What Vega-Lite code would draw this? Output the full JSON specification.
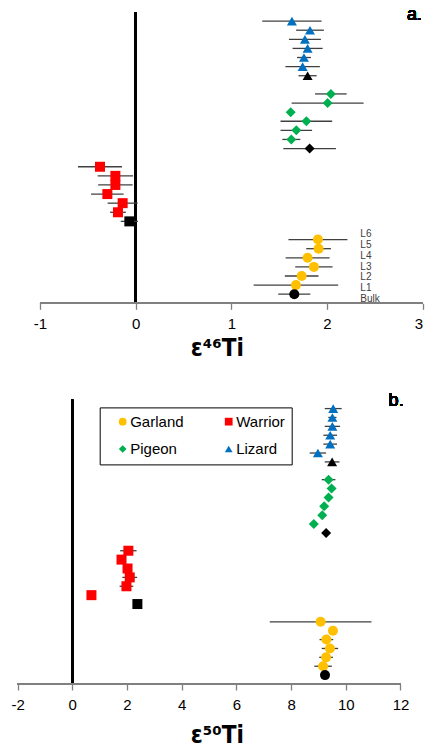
{
  "$schema": "https://vega.github.io/schema/vega-lite/v6.json",
  "background": "white",
  "padding": {"left": 10, "top": 6, "right": 3.3, "bottom": 0},
  "bounds": "flush",
  "spacing": 95.7,
  "config": {
    "view": {"stroke": null},
    "font": "Liberation Sans, Arial, sans-serif",
    "axisX": {"domain": false, "grid": false, "ticks": true, "tickColor": "#808080", "tickSize": 6, "tickWidth": 1.3, "labelFontSize": 15, "labelColor": "black", "labelPadding": 7, "labelExpr": "'' + datum.value", "titleFont": "DejaVu Sans Condensed, DejaVu Sans, sans-serif", "titleFontSize": 24, "titleFontWeight": "bold", "titleColor": "black"}
  },
  "data": {"values": [
    {"sample": "Lizard L6", "meteorite": "Lizard", "step": "L6", "stepNo": 6, "kind": "leachate", "e46": 1.633, "e46err": 0.31, "e50": 9.54, "e50err": 0.31},
    {"sample": "Lizard L5", "meteorite": "Lizard", "step": "L5", "stepNo": 5, "kind": "leachate", "e46": 1.822, "e46err": 0.145, "e50": 9.51, "e50err": 0.15},
    {"sample": "Lizard L4", "meteorite": "Lizard", "step": "L4", "stepNo": 4, "kind": "leachate", "e46": 1.769, "e46err": 0.167, "e50": 9.51, "e50err": 0.28},
    {"sample": "Lizard L3", "meteorite": "Lizard", "step": "L3", "stepNo": 3, "kind": "leachate", "e46": 1.797, "e46err": 0.157, "e50": 9.43, "e50err": 0.25},
    {"sample": "Lizard L2", "meteorite": "Lizard", "step": "L2", "stepNo": 2, "kind": "leachate", "e46": 1.759, "e46err": 0.073, "e50": 9.43, "e50err": 0.25},
    {"sample": "Lizard L1", "meteorite": "Lizard", "step": "L1", "stepNo": 1, "kind": "leachate", "e46": 1.745, "e46err": 0.18, "e50": 8.98, "e50err": 0.3},
    {"sample": "Lizard Bulk", "meteorite": "Lizard", "step": "Bulk", "stepNo": 0, "kind": "bulk", "e46": 1.797, "e46err": 0.095, "e50": 9.5, "e50err": 0.27},
    {"sample": "Pigeon L6", "meteorite": "Pigeon", "step": "L6", "stepNo": 6, "kind": "leachate", "e46": 2.04, "e46err": 0.165, "e50": 9.37, "e50err": 0.25},
    {"sample": "Pigeon L5", "meteorite": "Pigeon", "step": "L5", "stepNo": 5, "kind": "leachate", "e46": 2.006, "e46err": 0.376, "e50": 9.48, "e50err": 0.1},
    {"sample": "Pigeon L4", "meteorite": "Pigeon", "step": "L4", "stepNo": 4, "kind": "leachate", "e46": 1.62, "e46err": 0.03, "e50": 9.37, "e50err": 0.1},
    {"sample": "Pigeon L3", "meteorite": "Pigeon", "step": "L3", "stepNo": 3, "kind": "leachate", "e46": 1.784, "e46err": 0.27, "e50": 9.21, "e50err": 0.1},
    {"sample": "Pigeon L2", "meteorite": "Pigeon", "step": "L2", "stepNo": 2, "kind": "leachate", "e46": 1.679, "e46err": 0.165, "e50": 9.14, "e50err": 0.1},
    {"sample": "Pigeon L1", "meteorite": "Pigeon", "step": "L1", "stepNo": 1, "kind": "leachate", "e46": 1.627, "e46err": 0.094, "e50": 8.83, "e50err": 0.1},
    {"sample": "Pigeon Bulk", "meteorite": "Pigeon", "step": "Bulk", "stepNo": 0, "kind": "bulk", "e46": 1.818, "e46err": 0.275, "e50": 9.28, "e50err": 0.1},
    {"sample": "Warrior L6", "meteorite": "Warrior", "step": "L6", "stepNo": 6, "kind": "leachate", "e46": -0.373, "e46err": 0.23, "e50": 2.05, "e50err": 0.3},
    {"sample": "Warrior L5", "meteorite": "Warrior", "step": "L5", "stepNo": 5, "kind": "leachate", "e46": -0.212, "e46err": 0.185, "e50": 1.8, "e50err": 0.1},
    {"sample": "Warrior L4", "meteorite": "Warrior", "step": "L4", "stepNo": 4, "kind": "leachate", "e46": -0.212, "e46err": 0.18, "e50": 2.02, "e50err": 0.15},
    {"sample": "Warrior L3", "meteorite": "Warrior", "step": "L3", "stepNo": 3, "kind": "leachate", "e46": -0.296, "e46err": 0.17, "e50": 2.1, "e50err": 0.27},
    {"sample": "Warrior L2", "meteorite": "Warrior", "step": "L2", "stepNo": 2, "kind": "leachate", "e46": -0.136, "e46err": 0.157, "e50": 1.98, "e50err": 0.25},
    {"sample": "Warrior L1", "meteorite": "Warrior", "step": "L1", "stepNo": 1, "kind": "leachate", "e46": -0.185, "e46err": 0.083, "e50": 0.7, "e50err": 0.1},
    {"sample": "Warrior Bulk", "meteorite": "Warrior", "step": "Bulk", "stepNo": 0, "kind": "bulk", "e46": -0.066, "e46err": 0.09, "e50": 2.38, "e50err": 0.1},
    {"sample": "Garland L6", "meteorite": "Garland", "step": "L6", "stepNo": 6, "kind": "leachate", "e46": 1.905, "e46err": 0.308, "e50": 9.08, "e50err": 1.86},
    {"sample": "Garland L5", "meteorite": "Garland", "step": "L5", "stepNo": 5, "kind": "leachate", "e46": 1.912, "e46err": 0.129, "e50": 9.53, "e50err": 0.1},
    {"sample": "Garland L4", "meteorite": "Garland", "step": "L4", "stepNo": 4, "kind": "leachate", "e46": 1.797, "e46err": 0.23, "e50": 9.29, "e50err": 0.25},
    {"sample": "Garland L3", "meteorite": "Garland", "step": "L3", "stepNo": 3, "kind": "leachate", "e46": 1.863, "e46err": 0.195, "e50": 9.42, "e50err": 0.3},
    {"sample": "Garland L2", "meteorite": "Garland", "step": "L2", "stepNo": 2, "kind": "leachate", "e46": 1.735, "e46err": 0.176, "e50": 9.28, "e50err": 0.25},
    {"sample": "Garland L1", "meteorite": "Garland", "step": "L1", "stepNo": 1, "kind": "leachate", "e46": 1.675, "e46err": 0.442, "e50": 9.17, "e50err": 0.32},
    {"sample": "Garland Bulk", "meteorite": "Garland", "step": "Bulk", "stepNo": 0, "kind": "bulk", "e46": 1.658, "e46err": 0.168, "e50": 9.24, "e50err": 0.1}
  ]},
  "resolve": {
    "scale": {"x": "independent", "y": "independent", "color": "independent", "shape": "independent"},
    "legend": {"color": "independent", "shape": "independent"}
  },
  "vconcat": [
    {
      "width": 411.7,
      "height": 291.3,
      "resolve": {"scale": {"y": "independent"}},
      "layer": [
        {
          "layer": [
            {
              "mark": {"type": "rule", "color": "black", "strokeWidth": 2},
              "encoding": {
                "x": {"datum": 0, "type": "quantitative", "scale": {"domain": [-1.303, 3], "nice": false, "zero": false}, "axis": {"title": "ε⁴⁶Ti", "titlePadding": 5, "labelFlush": true, "values": [-1, 0, 1, 2, 3]}}
              }
            },
            {
              "mark": {"type": "rule", "color": "#808080", "strokeWidth": 1.5},
              "encoding": {
                "x": {"datum": -1, "type": "quantitative", "scale": {"domain": [-1.303, 3], "nice": false, "zero": false}, "axis": {"title": "ε⁴⁶Ti", "titlePadding": 5, "labelFlush": true, "values": [-1, 0, 1, 2, 3]}},
                "x2": {"datum": 3},
                "y": {"datum": "axis", "type": "nominal", "scale": {"type": "point", "padding": 0, "domain": ["top","Lizard L6","Lizard L5","Lizard L4","Lizard L3","Lizard L2","Lizard L1","Lizard Bulk","gap1","Pigeon L6","Pigeon L5","Pigeon L4","Pigeon L3","Pigeon L2","Pigeon L1","Pigeon Bulk","gap2","Warrior L6","Warrior L5","Warrior L4","Warrior L3","Warrior L2","Warrior L1","Warrior Bulk","gap3","Garland L6","Garland L5","Garland L4","Garland L3","Garland L2","Garland L1","Garland Bulk","axis"]}, "axis": null}
              }
            },
            {
              "mark": {"type": "errorbar", "ticks": false, "color": "#404040", "thickness": 1.3},
              "encoding": {
                "x": {"field": "e46", "type": "quantitative", "axis": {"title": "ε⁴⁶Ti", "titlePadding": 5, "labelFlush": true, "values": [-1, 0, 1, 2, 3]}},
                "xError": {"field": "e46err"},
                "y": {"field": "sample", "type": "nominal", "axis": null}
              }
            },
            {
              "transform": [{"filter": "datum.kind === 'leachate'"}],
              "mark": {"type": "point", "filled": true, "size": 100, "opacity": 1, "strokeWidth": 0},
              "encoding": {
                "x": {"field": "e46", "type": "quantitative", "axis": {"title": "ε⁴⁶Ti", "titlePadding": 5, "labelFlush": true, "values": [-1, 0, 1, 2, 3]}},
                "y": {"field": "sample", "type": "nominal", "axis": null},
                "color": {"field": "meteorite", "type": "nominal", "scale": {"domain": ["Garland", "Pigeon", "Warrior", "Lizard"], "range": ["#FFC000", "#00B050", "#FF0000", "#0070C0"]}, "legend": null},
                "shape": {"field": "meteorite", "type": "nominal", "scale": {"domain": ["Garland", "Pigeon", "Warrior", "Lizard"], "range": ["circle", "diamond", "square", "triangle-up"]}, "legend": null}
              }
            },
            {
              "transform": [{"filter": "datum.kind === 'bulk'"}],
              "mark": {"type": "point", "filled": true, "size": 100, "opacity": 1, "strokeWidth": 0, "color": "black"},
              "encoding": {
                "x": {"field": "e46", "type": "quantitative", "axis": {"title": "ε⁴⁶Ti", "titlePadding": 5, "labelFlush": true, "values": [-1, 0, 1, 2, 3]}},
                "y": {"field": "sample", "type": "nominal", "axis": null},
                "shape": {"field": "meteorite", "type": "nominal", "legend": null}
              }
            },
            {
              "mark": {"type": "text", "text": "a.", "fontSize": 18, "align": "center", "baseline": "middle", "dy": 3, "color": "black"},
              "encoding": {
                "x": {"datum": 2.915, "type": "quantitative", "axis": {"title": "ε⁴⁶Ti", "titlePadding": 5, "labelFlush": true, "values": [-1, 0, 1, 2, 3]}},
                "y": {"datum": "top", "type": "nominal", "axis": null}
              }
            }
          ]
        },
        {
          "transform": [{"filter": "datum.meteorite === 'Garland'"}],
          "mark": {"type": "text", "align": "left", "baseline": "middle", "fontSize": 10, "color": "#404040"},
          "encoding": {
            "x": {"datum": 2.348, "type": "quantitative", "axis": {"title": "ε⁴⁶Ti", "titlePadding": 5, "labelFlush": true, "values": [-1, 0, 1, 2, 3]}},
            "y": {"field": "stepNo", "type": "quantitative", "scale": {"domain": [-0.42, 26.75], "nice": false, "zero": false}, "axis": null},
            "text": {"field": "step"}
          }
        }
      ]
    },
    {
      "width": 411.7,
      "height": 284.3,
      "layer": [
        {
          "mark": {"type": "rule", "color": "black", "strokeWidth": 2},
          "encoding": {
            "x": {"datum": 0, "type": "quantitative", "scale": {"domain": [-2.241, 12.812], "nice": false, "zero": false}, "axis": {"title": "ε⁵⁰Ti", "titlePadding": 11, "values": [-2, 0, 2, 4, 6, 8, 10, 12]}}
          }
        },
        {
          "mark": {"type": "rule", "color": "#808080", "strokeWidth": 1.5},
          "encoding": {
            "x": {"datum": -2, "type": "quantitative", "scale": {"domain": [-2.241, 12.812], "nice": false, "zero": false}, "axis": {"title": "ε⁵⁰Ti", "titlePadding": 11, "values": [-2, 0, 2, 4, 6, 8, 10, 12]}},
            "x2": {"datum": 12},
            "y": {"datum": "axis", "type": "nominal", "scale": {"type": "point", "padding": 0, "domain": ["top","Lizard L6","Lizard L5","Lizard L4","Lizard L3","Lizard L2","Lizard L1","Lizard Bulk","gap1","Pigeon L6","Pigeon L5","Pigeon L4","Pigeon L3","Pigeon L2","Pigeon L1","Pigeon Bulk","gap2","Warrior L6","Warrior L5","Warrior L4","Warrior L3","Warrior L2","Warrior L1","Warrior Bulk","gap3","Garland L6","Garland L5","Garland L4","Garland L3","Garland L2","Garland L1","Garland Bulk","axis"]}, "axis": null}
          }
        },
        {
          "mark": {"type": "errorbar", "ticks": false, "color": "#404040", "thickness": 1.3},
          "encoding": {
            "x": {"field": "e50", "type": "quantitative", "axis": {"title": "ε⁵⁰Ti", "titlePadding": 11, "values": [-2, 0, 2, 4, 6, 8, 10, 12]}},
            "xError": {"field": "e50err"},
            "y": {"field": "sample", "type": "nominal", "axis": null}
          }
        },
        {
          "transform": [{"filter": "datum.kind === 'leachate'"}],
          "mark": {"type": "point", "filled": true, "size": 100, "opacity": 1, "strokeWidth": 0},
          "encoding": {
            "x": {"field": "e50", "type": "quantitative", "axis": {"title": "ε⁵⁰Ti", "titlePadding": 11, "values": [-2, 0, 2, 4, 6, 8, 10, 12]}},
            "y": {"field": "sample", "type": "nominal", "axis": null},
            "color": {"field": "meteorite", "type": "nominal", "scale": {"domain": ["Garland", "Pigeon", "Warrior", "Lizard"], "range": ["#FFC000", "#00B050", "#FF0000", "#0070C0"]},
              "legend": {"orient": "none", "legendX": 88.7, "legendY": 7.7, "columns": 2, "title": null, "padding": 6.5, "rowPadding": 11.6, "columnPadding": 28, "symbolOffset": 9, "strokeColor": "black", "fillColor": "white", "labelFontSize": 15, "labelOffset": 0, "symbolSize": 60, "labelColor": "black", "symbolStrokeWidth": 0}},
            "shape": {"field": "meteorite", "type": "nominal", "scale": {"domain": ["Garland", "Pigeon", "Warrior", "Lizard"], "range": ["circle", "diamond", "square", "triangle-up"]},
              "legend": {"orient": "none", "legendX": 88.7, "legendY": 7.7, "columns": 2, "title": null, "padding": 6.5, "rowPadding": 11.6, "columnPadding": 28, "symbolOffset": 9, "strokeColor": "black", "fillColor": "white", "labelFontSize": 15, "labelOffset": 0, "symbolSize": 60, "labelColor": "black", "symbolStrokeWidth": 0}}
          }
        },
        {
          "transform": [{"filter": "datum.kind === 'bulk'"}],
          "mark": {"type": "point", "filled": true, "size": 100, "opacity": 1, "strokeWidth": 0, "color": "black"},
          "encoding": {
            "x": {"field": "e50", "type": "quantitative", "axis": {"title": "ε⁵⁰Ti", "titlePadding": 11, "values": [-2, 0, 2, 4, 6, 8, 10, 12]}},
            "y": {"field": "sample", "type": "nominal", "axis": null},
            "shape": {"field": "meteorite", "type": "nominal", "legend": null}
          }
        },
        {
          "mark": {"type": "text", "text": "b.", "fontSize": 18, "align": "center", "baseline": "middle", "dy": 1, "color": "black"},
          "encoding": {
            "x": {"datum": 11.84, "type": "quantitative", "axis": {"title": "ε⁵⁰Ti", "titlePadding": 11, "values": [-2, 0, 2, 4, 6, 8, 10, 12]}},
            "y": {"datum": "top", "type": "nominal", "axis": null}
          }
        }
      ]
    }
  ]
}
